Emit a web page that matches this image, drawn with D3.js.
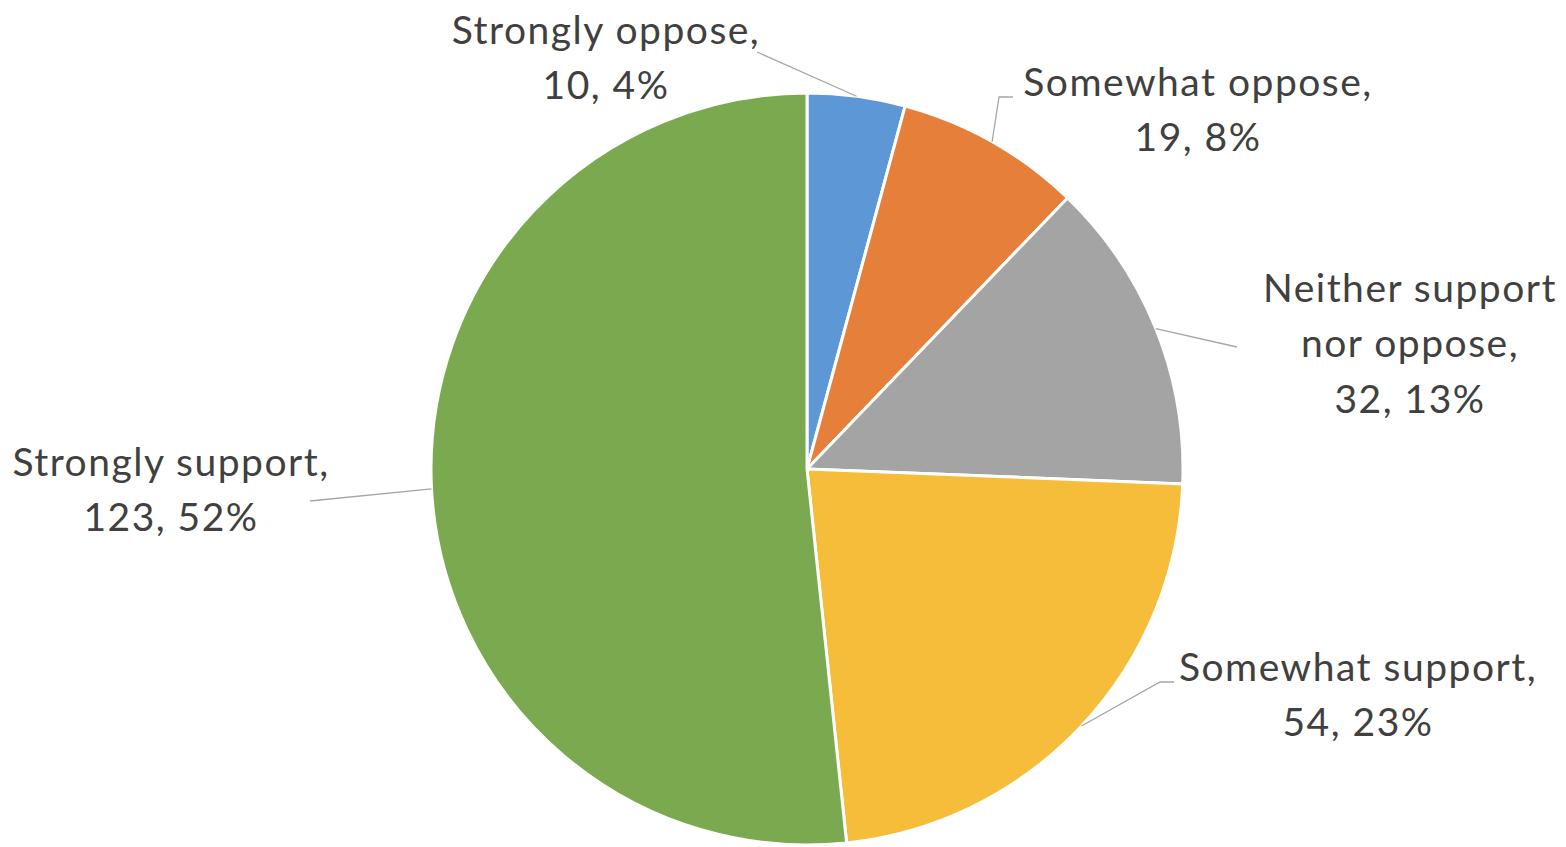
<!DOCTYPE html>
<html><head><meta charset="utf-8">
<script src="https://cdn.jsdelivr.net/npm/d3@7"></script>
<style>html,body{margin:0;padding:0;background:#fff;overflow:hidden}</style>
</head><body>
<svg id="c" width="1566" height="847"></svg>
<script>
const categories = ["Strongly oppose", "Somewhat oppose", "Neither support nor oppose", "Somewhat support", "Strongly support"];
const values = [10, 19, 32, 54, 123];
const percentLabels = ["4%", "8%", "13%", "23%", "52%"];
const colors = ["#5D97D5", "#E67F3A", "#A4A4A4", "#F5BD3A", "#7BA94F"];
const labelLines = [
  ["Strongly oppose,", "10, 4%"],
  ["Somewhat oppose,", "19, 8%"],
  ["Neither support", "nor oppose,", "32, 13%"],
  ["Somewhat support,", "54, 23%"],
  ["Strongly support,", "123, 52%"]
];

// layout (not data)
const cx = 807, cy = 469, R = 376;
const labelCenters = [[606, 30], [1198, 82], [1410, 288], [1358, 667], [171, 462]];
const leaderEnds = [[[757, 52]], [[1013, 97], [999, 97]], [[1237, 347]], [[1174, 682], [1160, 682]], [[310, 501]]];

const svg = d3.select("#c");
const g = svg.append("g").attr("transform", `translate(${cx},${cy})`);
const pie = d3.pie().sort(null).value(d => d)(values);
const arc = d3.arc().innerRadius(0).outerRadius(R);

g.selectAll("path.slice").data(pie).join("path")
  .attr("class", "slice")
  .attr("d", arc)
  .attr("fill", (d, i) => colors[i])
  .attr("stroke", "#fff").attr("stroke-width", 3).attr("stroke-linejoin", "round");

// leader lines
pie.forEach((d, i) => {
  const a = (d.startAngle + d.endAngle) / 2;
  const p = [cx + R * Math.sin(a), cy - R * Math.cos(a)];
  const path = [...leaderEnds[i], p];
  svg.append("path")
    .attr("d", d3.line()(path))
    .attr("fill", "none").attr("stroke", "#a6a6a6").attr("stroke-width", 1.3);
});

// labels
const fs = 39, lh = 55.5;
labelLines.forEach((lines, i) => {
  const [x, y] = labelCenters[i];
  const t = svg.append("text")
    .attr("text-anchor", "middle")
    .attr("font-family", "Lato, 'Open Sans', sans-serif")
    .attr("font-size", fs)
    .attr("letter-spacing", "1.5px")
    .attr("fill", "#404040");
  lines.forEach((s, k) => {
    t.append("tspan").attr("x", x).attr("y", y + k * lh).attr("dy", "0.35em").text(s);
  });
});
</script>
</body></html>
